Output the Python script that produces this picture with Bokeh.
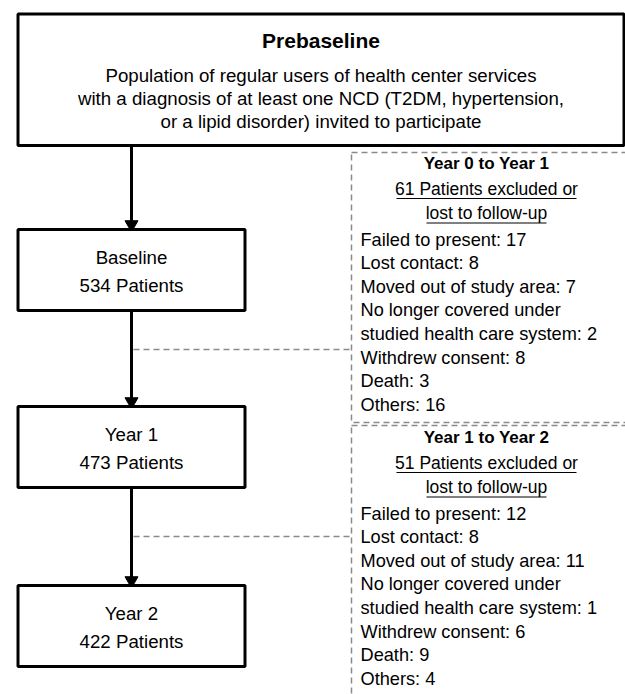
from bokeh.plotting import figure
from bokeh.models import Range1d
from bokeh.core.properties import value
from bokeh.embed import file_html
from bokeh.resources import INLINE

# ---------------- data ----------------
intro_title = "Prebaseline"
intro_lines = [
    "Population of regular users of health center services",
    "with a diagnosis of at least one NCD (T2DM, hypertension,",
    "or a lipid disorder) invited to participate",
]
stages = ["Baseline", "Year 1", "Year 2"]
patients = [534, 473, 422]
periods = ["Year 0 to Year 1", "Year 1 to Year 2"]
excluded = [61, 51]
reasons = [
    "Failed to present",
    "Lost contact",
    "Moved out of study area",
    "No longer covered under\nstudied health care system",
    "Withdrew consent",
    "Death",
    "Others",
]
counts_y0_y1 = [17, 8, 7, 2, 8, 3, 16]
counts_y1_y2 = [12, 8, 11, 1, 6, 9, 4]
counts = [counts_y0_y1, counts_y1_y2]

# ---------------- layout ----------------
FONT = value("Liberation Sans")
FS = "18.7px"
FS_SIDE = "18.2px"
GRAY = "#8a8a8a"

W, H = 625, 694
p = figure(width=W, height=H, x_range=Range1d(0, W), y_range=Range1d(H, 0),
           output_backend="svg", toolbar_location=None, min_border=0)
p.axis.visible = False
p.grid.visible = False
p.outline_line_color = None
p.background_fill_color = "white"
p.border_fill_color = "white"


def txt(x, y, s, align="center", bold=False, size=FS):
    p.text(x=[x], y=[y], text=[s], text_font=FONT, text_font_size=size,
           text_align=align, text_baseline="middle", text_color="black",
           text_font_style="bold" if bold else "normal")


# top box
TL, TR, TT, TB = 17.5, 623.5, 13.5, 145
CX = 131
box_l, box_r = 17.5, 244.5
box_tops = [229, 406, 585]
box_h = 81

# arrows (drawn first, boxes cover ends)
arrow_starts = [TB] + [t + box_h for t in box_tops[:-1]]
for ys, t in zip(arrow_starts, box_tops):
    p.segment(x0=[CX], y0=[ys], x1=[CX], y1=[t - 6], line_color="black", line_width=3)
    p.scatter(x=[CX], y=[t - 5], marker="inverted_triangle", size=13,
              fill_color="black", line_color="black")

# dashed connectors
conn_y = [349, 536]
for cy in conn_y:
    p.segment(x0=[CX + 2], y0=[cy], x1=[351], y1=[cy], line_color=GRAY,
              line_width=1.5, line_dash="6 4")

# dashed exclusion boxes
ex_tops = [152, 425]
ex_bottoms = [422, 760]
for t, b in zip(ex_tops, ex_bottoms):
    p.quad(left=[351], right=[680], top=[t], bottom=[b], fill_color=None,
           line_color=GRAY, line_width=1.5, line_dash="6 4")

p.quad(left=[TL], right=[TR], top=[TT], bottom=[TB], fill_color="white",
       line_color="black", line_width=3)
txt((TL + TR) / 2, 40, intro_title, bold=True, size="21px")
for i, s in enumerate(intro_lines):
    txt((TL + TR) / 2, 75 + i * 23, s)

# stage boxes
for name, n, t in zip(stages, patients, box_tops):
    p.quad(left=[box_l], right=[box_r], top=[t], bottom=[t + box_h],
           fill_color="white", line_color="black", line_width=3)
    mid = t + box_h / 2
    txt(CX, mid - 13, name)
    txt(CX, mid + 15, f"{n} Patients")

# exclusion texts
HX = 486
TXL = 360
header_y = [163, 437]
under_half = [90, 60]
for per, ex, cts, y0 in zip(periods, excluded, counts, header_y):
    txt(HX, y0, per, bold=True, size="17px")
    l1 = f"{ex} Patients excluded or"
    l2 = "lost to follow-up"
    for k, s in enumerate([l1, l2]):
        yy = y0 + 25 + k * 24.5
        txt(HX, yy, s, size="17.5px")
        p.segment(x0=[HX - under_half[k]], y0=[yy + 10], x1=[HX + under_half[k]],
                  y1=[yy + 10], line_color="black", line_width=1.2)
    lines = []
    for r, c in zip(reasons, cts):
        parts = f"{r}: {c}".split("\n")
        lines.extend(parts)
    for k, s in enumerate(lines):
        txt(TXL, y0 + 76 + k * 23.6, s, align="left", size=FS_SIDE)

open("out.html", "w").write(file_html(p, INLINE))
